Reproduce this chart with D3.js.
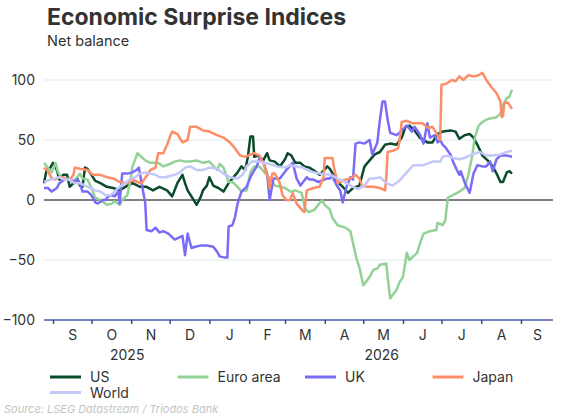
<!DOCTYPE html>
<html>
<head>
<meta charset="utf-8">
<script src="https://cdn.jsdelivr.net/npm/d3@7"></script>
<style>
  body { margin: 0; background: #fff; }
  svg { display: block; font-family: Inter, "Noto Sans", sans-serif; }
</style>
</head>
<body>
<svg width="576" height="418"></svg>
<script>
// Values (net balance, daily-ish samples)
const usData = [
  ["2025-08-25",14],["2025-08-27",25],["2025-08-30",27],["2025-09-01",31],["2025-09-04",25],["2025-09-06",17],
  ["2025-09-09",21],["2025-09-12",21],["2025-09-14",11],["2025-09-17",14],["2025-09-20",18],["2025-09-22",12],
  ["2025-09-24",11],["2025-09-26",27],["2025-09-28",26],["2025-10-01",21],["2025-10-04",16],["2025-10-08",14],
  ["2025-10-13",11],["2025-10-18",10],["2025-10-23",8],["2025-10-29",12],["2025-11-02",14],["2025-11-08",11],
  ["2025-11-13",11],["2025-11-18",8],["2025-11-23",11],["2025-11-29",8],["2025-12-03",3],["2025-12-07",14],
  ["2025-12-11",21],["2025-12-13",14],["2025-12-15",8],["2025-12-18",3],["2025-12-22",-4],["2025-12-25",2],
  ["2025-12-27",8],["2025-12-30",12],["2026-01-01",19],["2026-01-04",12],["2026-01-08",10],["2026-01-12",7],
  ["2026-01-16",14],["2026-01-19",18],["2026-01-23",23],["2026-01-26",28],["2026-01-29",25],["2026-01-31",36],
  ["2026-02-02",53],["2026-02-04",53],["2026-02-05",36],["2026-02-08",37],["2026-02-12",33],["2026-02-15",39],
  ["2026-02-17",33],["2026-02-21",32],["2026-02-25",28],["2026-03-01",34],["2026-03-03",39],["2026-03-06",37],
  ["2026-03-09",31],["2026-03-13",31],["2026-03-16",28],["2026-03-20",27],["2026-03-23",25],["2026-03-28",21],
  ["2026-04-03",28],["2026-04-05",26],["2026-04-11",15],["2026-04-15",11],["2026-04-19",6],["2026-04-23",10],
  ["2026-04-28",12],["2026-05-02",28],["2026-05-06",33],["2026-05-10",38],["2026-05-14",40],["2026-05-18",46],
  ["2026-05-22",47],["2026-05-27",46],["2026-05-31",52],["2026-06-03",61],["2026-06-06",62],["2026-06-10",58],
  ["2026-06-14",52],["2026-06-20",48],["2026-06-24",48],["2026-06-28",55],["2026-07-02",57],["2026-07-08",58],
  ["2026-07-12",57],["2026-07-15",51],["2026-07-19",54],["2026-07-23",55],["2026-07-26",52],["2026-07-29",46],
  ["2026-08-02",37],["2026-08-06",33],["2026-08-10",28],["2026-08-13",22],["2026-08-16",15],["2026-08-18",15],
  ["2026-08-21",23],["2026-08-23",24],["2026-08-25",22]
];

const euroData = [
  ["2025-08-25",31],["2025-08-28",27],["2025-08-31",23],["2025-09-03",31],["2025-09-05",23],["2025-09-08",18],
  ["2025-09-12",18],["2025-09-16",15],["2025-09-20",19],["2025-09-22",22],["2025-09-24",18],["2025-09-28",17],
  ["2025-10-01",10],["2025-10-04",2],["2025-10-08",0],["2025-10-13",-4],["2025-10-17",-3],["2025-10-19",-1],
  ["2025-10-23",-4],["2025-10-25",0],["2025-10-29",4],["2025-10-31",14],["2025-11-02",28],["2025-11-06",39],
  ["2025-11-09",36],["2025-11-12",33],["2025-11-16",31],["2025-11-22",31],["2025-11-26",28],["2025-12-01",30],
  ["2025-12-05",32],["2025-12-09",33],["2025-12-13",32],["2025-12-17",32],["2025-12-22",33],["2025-12-27",31],
  ["2026-01-01",32],["2026-01-07",25],["2026-01-09",30],["2026-01-12",27],["2026-01-16",15],["2026-01-19",15],
  ["2026-01-23",11],["2026-01-26",7],["2026-01-30",8],["2026-02-02",23],["2026-02-05",28],["2026-02-09",28],
  ["2026-02-13",23],["2026-02-17",18],["2026-02-21",12],["2026-02-25",11],["2026-03-01",10],["2026-03-05",7],
  ["2026-03-09",8],["2026-03-14",6],["2026-03-16",-5],["2026-03-18",-9],["2026-03-20",-10],["2026-03-24",-8],
  ["2026-03-27",-4],["2026-03-30",0],["2026-04-01",-4],["2026-04-05",-8],["2026-04-07",-15],["2026-04-11",-21],
  ["2026-04-17",-23],["2026-04-21",-26],["2026-04-23",-36],["2026-04-26",-50],["2026-04-28",-56],["2026-05-01",-71],
  ["2026-05-04",-67],["2026-05-06",-64],["2026-05-09",-58],["2026-05-12",-57],["2026-05-14",-54],["2026-05-19",-53],
  ["2026-05-20",-64],["2026-05-22",-82],["2026-05-24",-79],["2026-05-27",-75],["2026-05-29",-69],["2026-06-01",-64],
  ["2026-06-04",-44],["2026-06-06",-50],["2026-06-09",-47],["2026-06-12",-44],["2026-06-14",-37],["2026-06-17",-28],
  ["2026-06-22",-26],["2026-06-27",-25],["2026-06-28",-19],["2026-07-02",-21],["2026-07-04",-17],["2026-07-05",-7],
  ["2026-07-06",2],["2026-07-10",4],["2026-07-15",7],["2026-07-19",10],["2026-07-22",21],["2026-07-25",37],
  ["2026-07-27",52],["2026-07-30",62],["2026-08-02",65],["2026-08-05",67],["2026-08-08",68],["2026-08-13",69],
  ["2026-08-16",72],["2026-08-18",79],["2026-08-21",85],["2026-08-23",86],["2026-08-25",92]
];

const ukData = [
  ["2025-08-25",10],["2025-08-28",10],["2025-08-31",7],["2025-09-04",10],["2025-09-06",14],["2025-09-10",17],
  ["2025-09-14",18],["2025-09-17",15],["2025-09-20",17],["2025-09-22",14],["2025-09-24",7],["2025-09-28",7],
  ["2025-10-01",4],["2025-10-04",-2],["2025-10-06",-3],["2025-10-10",0],["2025-10-12",0],["2025-10-14",3],
  ["2025-10-17",4],["2025-10-19",3],["2025-10-22",7],["2025-10-23",-3],["2025-10-25",22],["2025-10-29",22],
  ["2025-11-02",23],["2025-11-05",25],["2025-11-07",27],["2025-11-09",15],["2025-11-12",-3],["2025-11-13",-25],
  ["2025-11-17",-26],["2025-11-20",-23],["2025-11-23",-27],["2025-11-26",-26],["2025-11-30",-28],["2025-12-05",-33],
  ["2025-12-09",-31],["2025-12-11",-30],["2025-12-13",-46],["2025-12-15",-28],["2025-12-18",-40],["2025-12-21",-39],
  ["2025-12-25",-38],["2025-12-30",-38],["2026-01-04",-39],["2026-01-07",-43],["2026-01-09",-47],["2026-01-13",-48],
  ["2026-01-15",-48],["2026-01-16",-22],["2026-01-19",-21],["2026-01-21",-14],["2026-01-23",-3],["2026-01-26",7],
  ["2026-01-30",11],["2026-02-02",19],["2026-02-04",23],["2026-02-07",28],["2026-02-09",35],["2026-02-12",32],
  ["2026-02-15",22],["2026-02-17",0],["2026-02-20",18],["2026-02-25",18],["2026-03-02",25],["2026-03-07",31],
  ["2026-03-10",18],["2026-03-13",12],["2026-03-18",19],["2026-03-20",17],["2026-03-23",17],["2026-03-27",15],
  ["2026-04-03",18],["2026-04-05",18],["2026-04-07",21],["2026-04-08",17],["2026-04-11",11],["2026-04-13",8],
  ["2026-04-15",-2],["2026-04-18",11],["2026-04-21",19],["2026-04-23",17],["2026-04-25",47],["2026-04-28",48],
  ["2026-05-02",47],["2026-05-06",50],["2026-05-08",38],["2026-05-12",48],["2026-05-14",67],["2026-05-16",82],
  ["2026-05-18",82],["2026-05-20",67],["2026-05-22",56],["2026-05-27",54],["2026-05-29",56],["2026-06-04",62],
  ["2026-06-08",57],["2026-06-10",61],["2026-06-14",55],["2026-06-17",47],["2026-06-20",64],["2026-06-22",52],
  ["2026-06-26",54],["2026-06-28",48],["2026-06-30",50],["2026-07-02",46],["2026-07-04",44],["2026-07-08",38],
  ["2026-07-10",32],["2026-07-13",25],["2026-07-15",21],["2026-07-16",24],["2026-07-19",15],["2026-07-22",8],
  ["2026-07-23",6],["2026-07-26",22],["2026-07-29",29],["2026-08-02",28],["2026-08-05",28],["2026-08-08",32],
  ["2026-08-10",24],["2026-08-13",34],["2026-08-16",37],["2026-08-21",37],["2026-08-25",36]
];

const japanData = [
  ["2025-08-25",27],["2025-08-28",24],["2025-08-31",18],["2025-09-03",17],["2025-09-05",19],["2025-09-09",19],
  ["2025-09-12",17],["2025-09-15",18],["2025-09-17",21],["2025-09-18",27],["2025-09-22",26],["2025-09-28",25],
  ["2025-10-02",21],["2025-10-08",21],["2025-10-13",19],["2025-10-18",18],["2025-10-23",15],["2025-10-29",14],
  ["2025-11-02",17],["2025-11-06",15],["2025-11-09",14],["2025-11-13",20],["2025-11-16",25],["2025-11-20",27],
  ["2025-11-22",39],["2025-11-26",39],["2025-11-29",46],["2025-12-01",52],["2025-12-03",57],["2025-12-05",56],
  ["2025-12-07",55],["2025-12-11",48],["2025-12-15",50],["2025-12-17",61],["2025-12-22",61],["2025-12-27",58],
  ["2026-01-01",57],["2026-01-07",54],["2026-01-12",52],["2026-01-17",48],["2026-01-21",43],["2026-01-25",37],
  ["2026-01-29",36],["2026-02-05",39],["2026-02-09",37],["2026-02-12",31],["2026-02-13",28],["2026-02-16",17],
  ["2026-02-17",10],["2026-02-19",22],["2026-02-21",22],["2026-02-25",14],["2026-02-27",4],["2026-03-02",0],
  ["2026-03-05",0],["2026-03-07",6],["2026-03-10",-3],["2026-03-14",-8],["2026-03-16",-10],["2026-03-18",8],
  ["2026-03-23",10],["2026-03-28",11],["2026-03-31",19],["2026-04-01",35],["2026-04-07",35],["2026-04-08",28],
  ["2026-04-11",14],["2026-04-17",17],["2026-04-21",18],["2026-04-25",21],["2026-04-28",18],["2026-04-30",12],
  ["2026-05-04",11],["2026-05-09",11],["2026-05-14",10],["2026-05-18",8],["2026-05-19",19],["2026-05-20",40],
  ["2026-05-24",41],["2026-05-28",43],["2026-05-29",47],["2026-05-31",65],["2026-06-04",66],["2026-06-08",64],
  ["2026-06-12",64],["2026-06-16",64],["2026-06-21",60],["2026-06-24",61],["2026-06-28",54],["2026-06-30",50],
  ["2026-07-01",96],["2026-07-05",97],["2026-07-09",100],["2026-07-12",99],["2026-07-15",103],["2026-07-18",100],
  ["2026-07-22",104],["2026-07-26",103],["2026-07-30",104],["2026-08-02",106],["2026-08-05",100],["2026-08-09",94],
  ["2026-08-13",89],["2026-08-16",82],["2026-08-17",69],["2026-08-18",70],["2026-08-19",81],["2026-08-22",81],
  ["2026-08-25",76]
];

const worldData = [
  ["2025-08-25",15],["2025-08-30",17],["2025-09-03",18],["2025-09-06",19],["2025-09-10",17],["2025-09-14",17],
  ["2025-09-18",14],["2025-09-22",14],["2025-09-26",12],["2025-09-30",10],["2025-10-04",8],["2025-10-08",7],
  ["2025-10-12",4],["2025-10-16",4],["2025-10-19",7],["2025-10-23",11],["2025-10-27",14],["2025-10-31",17],
  ["2025-11-04",19],["2025-11-08",22],["2025-11-12",23],["2025-11-16",22],["2025-11-20",21],["2025-11-23",19],
  ["2025-11-28",19],["2025-12-01",20],["2025-12-05",21],["2025-12-09",23],["2025-12-13",27],["2025-12-17",28],
  ["2025-12-22",25],["2025-12-27",25],["2026-01-01",27],["2026-01-07",26],["2026-01-12",22],["2026-01-17",19],
  ["2026-01-23",18],["2026-01-27",21],["2026-01-30",28],["2026-02-03",32],["2026-02-09",32],["2026-02-12",31],
  ["2026-02-17",30],["2026-02-23",28],["2026-03-01",27],["2026-03-05",29],["2026-03-10",28],["2026-03-15",27],
  ["2026-03-20",24],["2026-03-24",23],["2026-03-28",22],["2026-04-05",21],["2026-04-13",17],["2026-04-18",14],
  ["2026-04-23",11],["2026-04-27",9],["2026-05-02",12],["2026-05-06",18],["2026-05-10",18],["2026-05-14",19],
  ["2026-05-19",14],["2026-05-24",12],["2026-05-29",16],["2026-06-04",23],["2026-06-09",29],["2026-06-14",29],
  ["2026-06-17",29],["2026-06-24",32],["2026-06-30",32],["2026-07-02",36],["2026-07-06",37],["2026-07-10",35],
  ["2026-07-15",34],["2026-07-19",35],["2026-07-25",38],["2026-07-31",40],["2026-08-05",37],["2026-08-10",37],
  ["2026-08-16",38],["2026-08-21",40],["2026-08-25",41]
];

const seriesNames = ["US", "Euro area", "UK", "Japan", "World"];
const seriesData = [usData, euroData, ukData, japanData, worldData];
const seriesColors = ["#0b4a2c", "#93d296", "#7a6cf7", "#fd8d66", "#c3c8f8"];

const yTicks = [-100, -50, 0, 50, 100];
const xStart = "2025-08-25";
const xEnd = "2026-09-26";

const parse = d3.timeParse("%Y-%m-%d");
const svg = d3.select("svg");

// Title and subtitle
svg.append("text").attr("x", 47).attr("y", 25)
  .attr("font-size", 23).attr("font-weight", 700).attr("fill", "#333")
  .text("Economic Surprise Indices");
svg.append("text").attr("x", 47).attr("y", 46)
  .attr("font-size", 14.5).attr("fill", "#333")
  .text("Net balance");

const x = d3.scaleTime()
  .domain([parse(xStart), parse(xEnd)])
  .range([44, 553]);
const y = d3.scaleLinear()
  .domain([-100, 100])
  .range([320, 80]);

// light gridlines
svg.append("g").selectAll("line")
  .data(yTicks.filter(v => v !== 0 && v !== -100))
  .join("line")
  .attr("x1", x.range()[0]).attr("x2", x.range()[1])
  .attr("y1", d => y(d)).attr("y2", d => y(d))
  .attr("stroke", "#eef6f5").attr("stroke-width", 2);

// y axis labels
const yAxis = svg.append("g")
  .attr("transform", `translate(${x.range()[0]},0)`)
  .call(d3.axisLeft(y).tickValues(yTicks).tickSize(0).tickPadding(9));
yAxis.select(".domain").remove();
yAxis.selectAll("text").attr("font-size", 14).attr("fill", "#333")
  .attr("font-family", "Inter, sans-serif");

// zero line
svg.append("line")
  .attr("x1", x.range()[0]).attr("x2", x.range()[1])
  .attr("y1", y(0)).attr("y2", y(0))
  .attr("stroke", "#000").attr("stroke-width", 1);

// series lines
const line = d3.line()
  .x(d => x(parse(d[0])))
  .y(d => y(d[1]));

svg.append("g").selectAll("path")
  .data(seriesData)
  .join("path")
  .attr("d", line)
  .attr("fill", "none")
  .attr("stroke", (d, i) => seriesColors[i])
  .attr("stroke-width", 2.5)
  .attr("stroke-linejoin", "round");

// x axis: month ticks
const monthStarts = d3.timeMonth.range(d3.timeMonth.ceil(x.domain()[0]), x.domain()[1]);
const xAxis = svg.append("g")
  .attr("transform", `translate(0,${y(-100)})`)
  .call(d3.axisBottom(x).tickValues(monthStarts).tickSize(4).tickFormat(""));
xAxis.select(".domain").attr("stroke", "#4a58a8").attr("stroke-width", 1.5)
  .attr("d", `M${x.range()[0]},0H${x.range()[1]}`);
xAxis.selectAll(".tick line").attr("stroke", "#3a4a98").attr("stroke-width", 1.5);

// month letters centred within each month
const edges = [x.domain()[0], ...monthStarts, x.domain()[1]];
const monthMids = monthStarts.map((m, i) => new Date((m.getTime() + edges[i + 2].getTime()) / 2));
const monthAxis = svg.append("g")
  .attr("transform", `translate(0,${y(-100)})`)
  .call(d3.axisBottom(x).tickValues(monthMids).tickSize(0).tickPadding(10)
    .tickFormat(d => d3.timeFormat("%b")(d).charAt(0)));
monthAxis.select(".domain").remove();
monthAxis.selectAll("text").attr("font-size", 14).attr("fill", "#333")
  .attr("font-family", "Inter, sans-serif");

// year labels centred within each year's share of the axis
const jan1 = d3.timeYear.ceil(x.domain()[0]);
const yearMids = [
  new Date((x.domain()[0].getTime() + jan1.getTime()) / 2),
  new Date((jan1.getTime() + x.domain()[1].getTime()) / 2)
];
const yearAxis = svg.append("g")
  .attr("transform", `translate(0,${y(-100) + 20})`)
  .call(d3.axisBottom(x).tickValues(yearMids).tickSize(0).tickPadding(10)
    .tickFormat((d, i) => i === 0 ? "2025" : "2026"));
yearAxis.select(".domain").remove();
yearAxis.selectAll("text").attr("font-size", 14).attr("fill", "#333")
  .attr("font-family", "Inter, sans-serif");

// legend
const legend = svg.append("g").selectAll("g")
  .data(seriesNames)
  .join("g")
  .attr("transform", (d, i) => `translate(${50 + (i % 4) * 127.5},${377 + Math.floor(i / 4) * 15.5})`);
legend.append("line")
  .attr("x1", 0).attr("x2", 31).attr("y1", 0).attr("y2", 0)
  .attr("stroke", (d, i) => seriesColors[i]).attr("stroke-width", 3);
legend.append("text")
  .attr("x", 40).attr("y", 5)
  .attr("font-size", 14).attr("fill", "#333")
  .text(d => d);

// source
svg.append("text").attr("x", 4).attr("y", 413)
  .attr("font-size", 11).attr("font-style", "italic").attr("fill", "#c4c4c4")
  .text("Source: LSEG Datastream / Triodos Bank");
</script>
</body>
</html>
